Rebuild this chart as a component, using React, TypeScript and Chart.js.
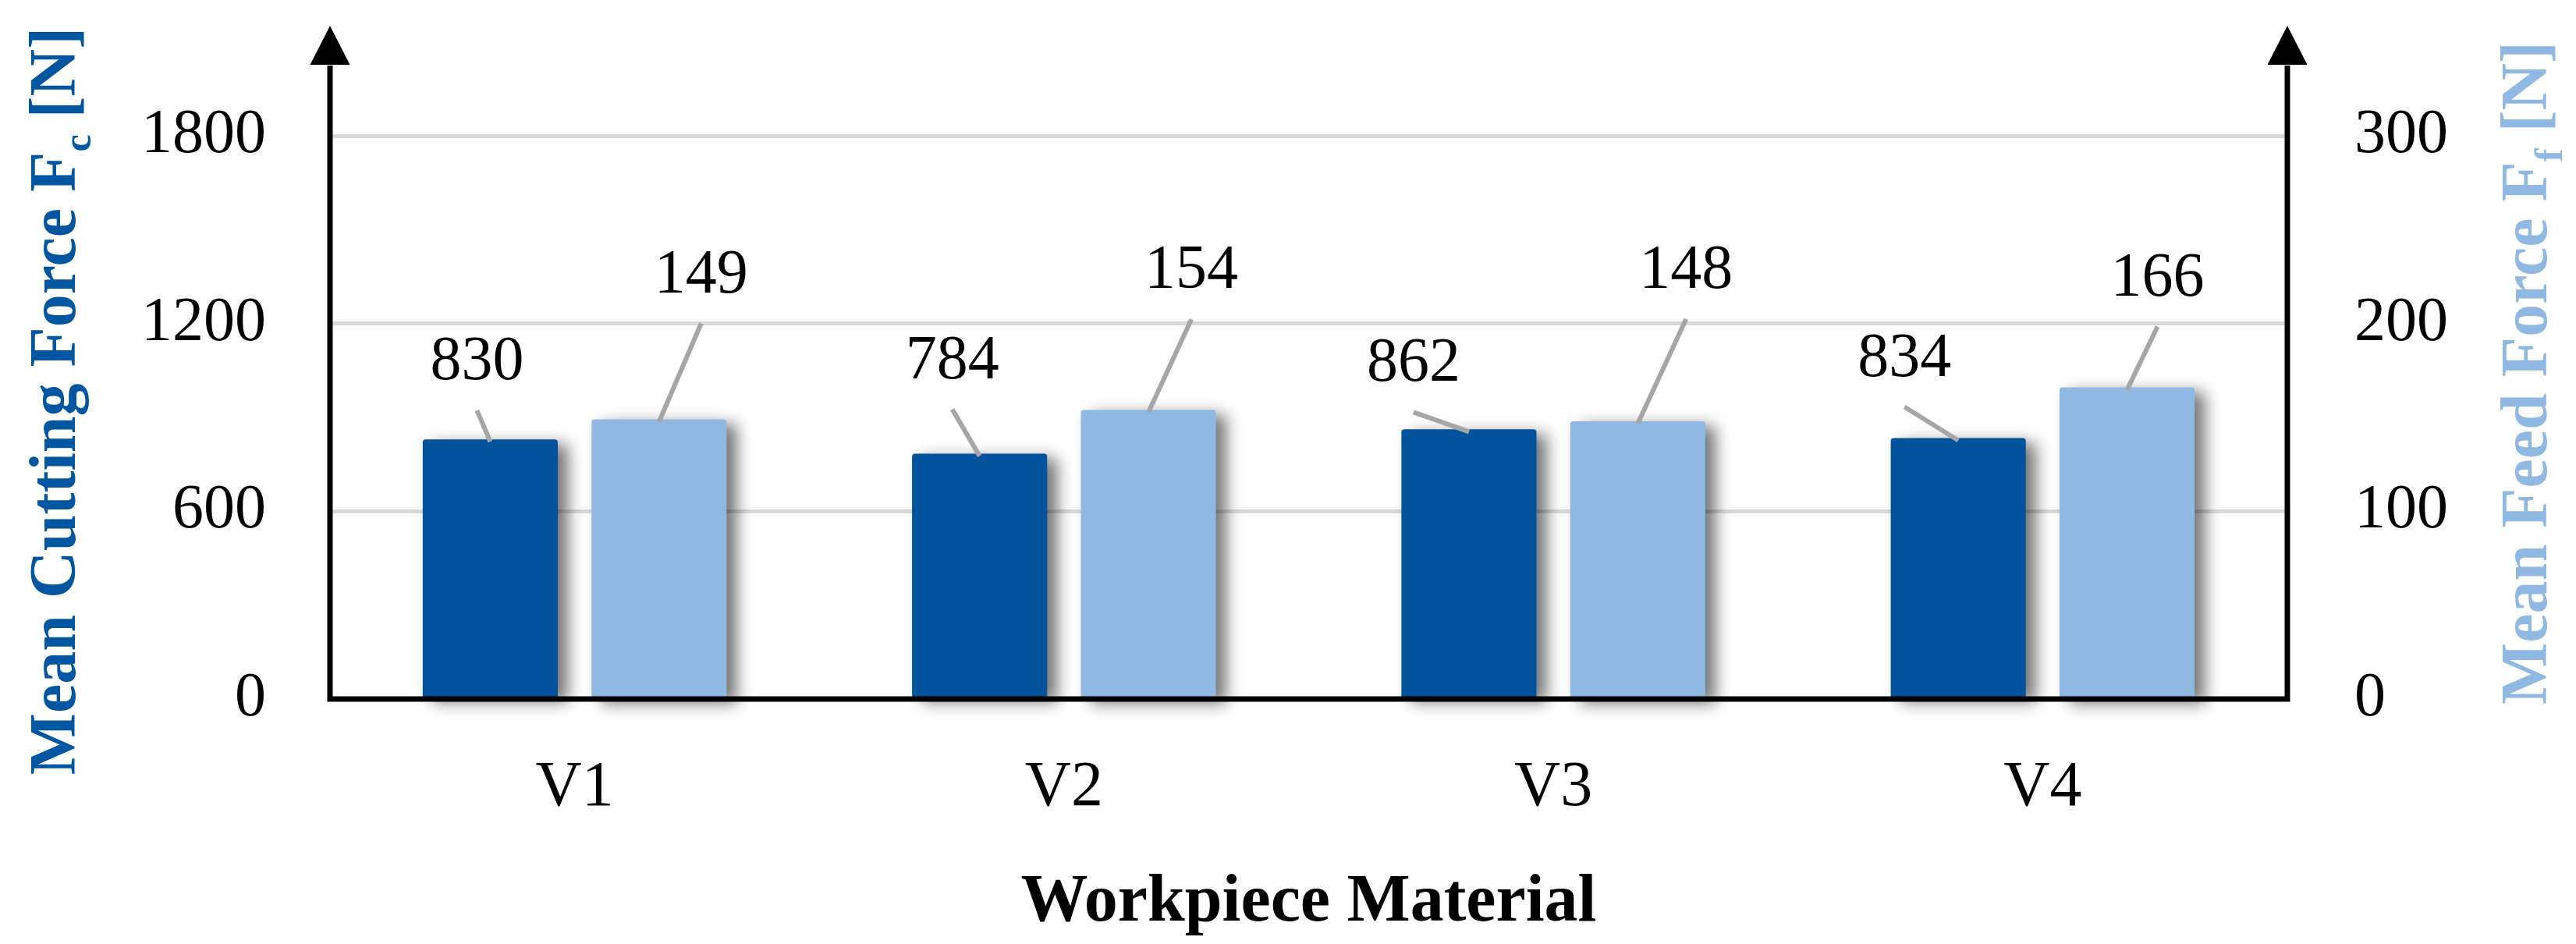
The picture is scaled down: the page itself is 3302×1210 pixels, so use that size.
import React, { useEffect, useRef } from "react";
import { Chart, registerables } from "chart.js";

Chart.register(...registerables);

// ---- data ----
const categories = ["V1", "V2", "V3", "V4"];
const cuttingForce = [830, 784, 862, 834]; // Mean Cutting Force Fc [N]
const feedForce = [149, 154, 148, 166]; // Mean Feed Force Ff [N]
const leftTicks = [0, 600, 1200, 1800];
const rightTicks = [0, 100, 200, 300];
const leftMax = 2000;
const rightMax = leftMax / 6;

// ---- label placement (style only: offsets of each label from its bar top, px) ----
const cuttingLabelNudge = [[-17, -98], [-35, -118], [-71, -83], [-69, -101]];
const feedLabelNudge = [[54, -184], [55, -177], [62, -192], [39, -139]];

const FONT = "'Liberation Serif', 'Times New Roman', serif";
const DARK = "#01539D";
const LIGHT = "#8FB9E3";
const GRID = "#D9D9D9";
const LEADER = "#A6A6A6";

const shadowPlugin = {
  id: "barShadow",
  beforeDatasetDraw(chart: any) {
    const c = chart.ctx;
    c.save();
    c.shadowColor = "rgba(0,0,0,0.55)";
    c.shadowBlur = 20;
    c.shadowOffsetX = 13;
    c.shadowOffsetY = 6;
  },
  afterDatasetDraw(chart: any) {
    chart.ctx.restore();
  },
};

const axesPlugin = {
  id: "arrowAxes",
  afterDatasetsDraw(chart: any) {
    const { ctx, chartArea: a } = chart;
    ctx.save();
    ctx.strokeStyle = "#000";
    ctx.fillStyle = "#000";
    ctx.lineWidth = 7;
    const base = a.top - 11;
    const tip = a.top - 61;
    const half = 25.5;
    ctx.beginPath();
    ctx.moveTo(a.left, a.bottom + 3.5);
    ctx.lineTo(a.left, base + 1);
    ctx.moveTo(a.right, a.bottom + 3.5);
    ctx.lineTo(a.right, base + 1);
    ctx.moveTo(a.left - 3.5, a.bottom);
    ctx.lineTo(a.right + 3.5, a.bottom);
    ctx.stroke();
    for (const x of [a.left, a.right]) {
      ctx.beginPath();
      ctx.moveTo(x - half, base);
      ctx.lineTo(x + half, base);
      ctx.lineTo(x, tip);
      ctx.closePath();
      ctx.fill();
    }
    ctx.restore();
  },
};

const labelsPlugin = {
  id: "leaderLabels",
  afterDatasetsDraw(chart: any) {
    const ctx = chart.ctx;
    const nudges = [cuttingLabelNudge, feedLabelNudge];
    ctx.save();
    ctx.font = `80px ${FONT}`;
    ctx.textAlign = "center";
    ctx.textBaseline = "middle";
    chart.data.datasets.forEach((ds: any, i: number) => {
      const meta = chart.getDatasetMeta(i);
      meta.data.forEach((bar: any, j: number) => {
        const { x, y } = bar.getProps(["x", "y"], true);
        const [dx, dy] = nudges[i][j];
        const lx = x + dx;
        const ly = y + dy;
        ctx.strokeStyle = LEADER;
        ctx.lineWidth = 6;
        ctx.beginPath();
        ctx.moveTo(lx, ly + 61);
        ctx.lineTo(x, y + 3);
        ctx.stroke();
        ctx.fillStyle = "#000";
        ctx.fillText(String(ds.data[j]), lx, ly);
      });
    });
    ctx.restore();
  },
};

type Part = { text: string; sub?: boolean };

function drawVerticalTitle(ctx: CanvasRenderingContext2D, parts: Part[], baselineX: number, centerY: number, color: string) {
  ctx.save();
  ctx.translate(baselineX, centerY);
  ctx.rotate(-Math.PI / 2);
  ctx.fillStyle = color;
  ctx.textBaseline = "alphabetic";
  ctx.textAlign = "left";
  const main = `bold 84px ${FONT}`;
  const sub = `bold 50px ${FONT}`;
  let total = 0;
  for (const p of parts) {
    ctx.font = p.sub ? sub : main;
    total += ctx.measureText(p.text).width;
  }
  let x = -total / 2;
  for (const p of parts) {
    ctx.font = p.sub ? sub : main;
    ctx.fillText(p.text, x, p.sub ? 20 : 0);
    x += ctx.measureText(p.text).width;
  }
  ctx.restore();
}

const titlesPlugin = {
  id: "axisTitles",
  afterDraw(chart: any) {
    const ctx = chart.ctx;
    const a = chart.chartArea;
    drawVerticalTitle(
      ctx,
      [{ text: "Mean Cutting Force F" }, { text: "c", sub: true }, { text: " [N]" }],
      a.left - 327,
      514,
      "#0156A2"
    );
    drawVerticalTitle(
      ctx,
      [{ text: "Mean Feed Force F" }, { text: "f", sub: true }, { text: " [N]" }],
      a.right + 332,
      478,
      LIGHT
    );
  },
};

export default function App() {
  const canvasRef = useRef<HTMLCanvasElement | null>(null);

  useEffect(() => {
    document.body.style.margin = "0";
    const canvas = canvasRef.current;
    if (!canvas) return;
    const chart = new Chart(canvas, {
      type: "bar",
      data: {
        labels: categories,
        datasets: [
          {
            label: "Mean Cutting Force",
            data: cuttingForce,
            backgroundColor: DARK,
            yAxisID: "y",
            borderRadius: 4,
            clip: false as any,
          },
          {
            label: "Mean Feed Force",
            data: feedForce,
            backgroundColor: LIGHT,
            yAxisID: "y1",
            borderRadius: 4,
            clip: false as any,
          },
        ],
      },
      options: {
        responsive: false,
        devicePixelRatio: 1,
        animation: false,
        layout: { padding: { top: 94, left: 0, right: 0, bottom: 0 } },
        datasets: { bar: { barPercentage: 0.8, categoryPercentage: 0.69 } },
        plugins: {
          legend: { display: false },
          tooltip: { enabled: false },
        },
        scales: {
          x: {
            type: "category",
            grid: { display: false, drawTicks: false },
            border: { display: false },
            ticks: { color: "#000", font: { family: FONT, size: 82 }, padding: 65 },
            title: {
              display: true,
              text: "Workpiece Material",
              color: "#000",
              font: { family: FONT, size: 86, weight: "bold" },
              padding: { top: 0, bottom: 1 },
            },
            afterFit: (scale: any) => {
              scale.height = 314;
            },
          },
          y: {
            type: "linear",
            position: "left",
            min: 0,
            max: leftMax,
            grid: {
              color: GRID,
              lineWidth: 5,
              drawTicks: true,
              tickLength: 82,
              tickColor: "rgba(0,0,0,0)",
            },
            border: { display: false },
            ticks: {
              color: "#000",
              font: { family: FONT, size: 80 },
              padding: 0,
              callback: (v: any) => String(v),
            },
            afterBuildTicks: (scale: any) => {
              scale.ticks = leftTicks.map((v) => ({ value: v }));
            },
            afterFit: (scale: any) => {
              scale.width = 423;
            },
          },
          y1: {
            type: "linear",
            position: "right",
            min: 0,
            max: rightMax,
            grid: {
              display: true,
              drawOnChartArea: false,
              drawTicks: true,
              tickLength: 86,
              tickColor: "rgba(0,0,0,0)",
            },
            border: { display: false },
            ticks: {
              color: "#000",
              font: { family: FONT, size: 80 },
              padding: 0,
              callback: (v: any) => String(v),
            },
            afterBuildTicks: (scale: any) => {
              scale.ticks = rightTicks.map((v) => ({ value: v }));
            },
            afterFit: (scale: any) => {
              scale.width = 370;
            },
          },
        },
      } as any,
      plugins: [shadowPlugin, axesPlugin, labelsPlugin, titlesPlugin],
    });
    return () => chart.destroy();
  }, []);

  return <canvas ref={canvasRef} width={3302} height={1210} style={{ display: "block" }} />;
}
